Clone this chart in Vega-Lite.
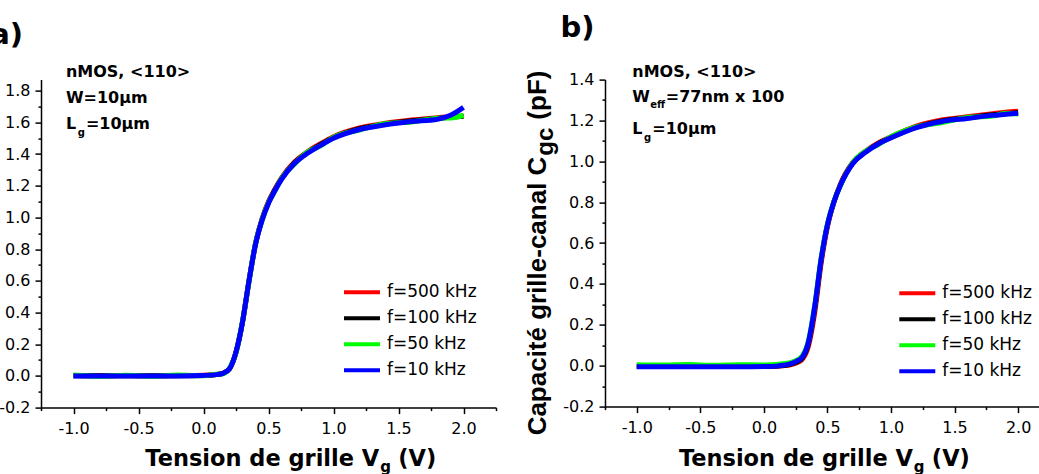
{
  "$schema": "https://vega.github.io/schema/vega-lite/v6.json",
  "background": "white",
  "padding": {"left": -10, "top": 13.6, "right": 0, "bottom": 0},
  "spacing": 27,
  "config": {
    "view": {"stroke": null},
    "axis": {"grid": false, "domainColor": "black", "domainWidth": 1.5, "tickColor": "black", "tickWidth": 1.5, "labelColor": "black", "labelFont": "DejaVu Sans", "labelFontSize": 16, "labelFlush": false, "labelOverlap": false}
  },
  "resolve": {"scale": {"color": "independent"}, "legend": {"color": "independent"}},
  "datasets": {
    "a": [
      {"f": "f=500 kHz", "V": -1, "C": 0.002}, {"f": "f=500 kHz", "V": -0.8, "C": 0.001}, {"f": "f=500 kHz", "V": -0.6, "C": 0.002}, {"f": "f=500 kHz", "V": -0.4, "C": 0.001}, {"f": "f=500 kHz", "V": -0.2, "C": 0.002}, {"f": "f=500 kHz", "V": 0, "C": 0.004}, {"f": "f=500 kHz", "V": 0.1, "C": 0.009}, {"f": "f=500 kHz", "V": 0.15, "C": 0.017}, {"f": "f=500 kHz", "V": 0.2, "C": 0.046}, {"f": "f=500 kHz", "V": 0.25, "C": 0.15}, {"f": "f=500 kHz", "V": 0.3, "C": 0.34}, {"f": "f=500 kHz", "V": 0.35, "C": 0.6}, {"f": "f=500 kHz", "V": 0.4, "C": 0.835}, {"f": "f=500 kHz", "V": 0.45, "C": 0.99}, {"f": "f=500 kHz", "V": 0.5, "C": 1.1}, {"f": "f=500 kHz", "V": 0.55, "C": 1.18}, {"f": "f=500 kHz", "V": 0.6, "C": 1.25}, {"f": "f=500 kHz", "V": 0.7, "C": 1.35}, {"f": "f=500 kHz", "V": 0.8, "C": 1.415}, {"f": "f=500 kHz", "V": 0.9, "C": 1.465}, {"f": "f=500 kHz", "V": 1, "C": 1.51}, {"f": "f=500 kHz", "V": 1.2, "C": 1.565}, {"f": "f=500 kHz", "V": 1.4, "C": 1.595}, {"f": "f=500 kHz", "V": 1.6, "C": 1.615}, {"f": "f=500 kHz", "V": 1.8, "C": 1.63}, {"f": "f=500 kHz", "V": 1.9, "C": 1.635}, {"f": "f=500 kHz", "V": 2, "C": 1.64},
      {"f": "f=100 kHz", "V": -1, "C": 0.001}, {"f": "f=100 kHz", "V": -0.8, "C": 0.001}, {"f": "f=100 kHz", "V": -0.6, "C": 0.001}, {"f": "f=100 kHz", "V": -0.4, "C": 0.001}, {"f": "f=100 kHz", "V": -0.2, "C": 0.001}, {"f": "f=100 kHz", "V": 0, "C": 0.003}, {"f": "f=100 kHz", "V": 0.1, "C": 0.008}, {"f": "f=100 kHz", "V": 0.15, "C": 0.016}, {"f": "f=100 kHz", "V": 0.2, "C": 0.045}, {"f": "f=100 kHz", "V": 0.25, "C": 0.15}, {"f": "f=100 kHz", "V": 0.3, "C": 0.34}, {"f": "f=100 kHz", "V": 0.35, "C": 0.6}, {"f": "f=100 kHz", "V": 0.4, "C": 0.832}, {"f": "f=100 kHz", "V": 0.45, "C": 0.985}, {"f": "f=100 kHz", "V": 0.5, "C": 1.095}, {"f": "f=100 kHz", "V": 0.55, "C": 1.175}, {"f": "f=100 kHz", "V": 0.6, "C": 1.245}, {"f": "f=100 kHz", "V": 0.7, "C": 1.345}, {"f": "f=100 kHz", "V": 0.8, "C": 1.41}, {"f": "f=100 kHz", "V": 0.9, "C": 1.46}, {"f": "f=100 kHz", "V": 1, "C": 1.505}, {"f": "f=100 kHz", "V": 1.2, "C": 1.56}, {"f": "f=100 kHz", "V": 1.4, "C": 1.59}, {"f": "f=100 kHz", "V": 1.6, "C": 1.61}, {"f": "f=100 kHz", "V": 1.8, "C": 1.625}, {"f": "f=100 kHz", "V": 1.9, "C": 1.632}, {"f": "f=100 kHz", "V": 2, "C": 1.638},
      {"f": "f=50 kHz", "V": -1, "C": 0.005}, {"f": "f=50 kHz", "V": -0.8, "C": -0.003}, {"f": "f=50 kHz", "V": -0.6, "C": 0.004}, {"f": "f=50 kHz", "V": -0.4, "C": -0.002}, {"f": "f=50 kHz", "V": -0.2, "C": 0.005}, {"f": "f=50 kHz", "V": 0, "C": 0.001}, {"f": "f=50 kHz", "V": 0.1, "C": 0.011}, {"f": "f=50 kHz", "V": 0.15, "C": 0.014}, {"f": "f=50 kHz", "V": 0.2, "C": 0.05}, {"f": "f=50 kHz", "V": 0.25, "C": 0.145}, {"f": "f=50 kHz", "V": 0.3, "C": 0.345}, {"f": "f=50 kHz", "V": 0.35, "C": 0.595}, {"f": "f=50 kHz", "V": 0.4, "C": 0.835}, {"f": "f=50 kHz", "V": 0.45, "C": 0.982}, {"f": "f=50 kHz", "V": 0.5, "C": 1.094}, {"f": "f=50 kHz", "V": 0.55, "C": 1.168}, {"f": "f=50 kHz", "V": 0.6, "C": 1.246}, {"f": "f=50 kHz", "V": 0.7, "C": 1.338}, {"f": "f=50 kHz", "V": 0.8, "C": 1.412}, {"f": "f=50 kHz", "V": 0.9, "C": 1.452}, {"f": "f=50 kHz", "V": 1, "C": 1.505}, {"f": "f=50 kHz", "V": 1.2, "C": 1.552}, {"f": "f=50 kHz", "V": 1.4, "C": 1.592}, {"f": "f=50 kHz", "V": 1.6, "C": 1.603}, {"f": "f=50 kHz", "V": 1.8, "C": 1.626}, {"f": "f=50 kHz", "V": 1.9, "C": 1.628}, {"f": "f=50 kHz", "V": 2, "C": 1.645},
      {"f": "f=10 kHz", "V": -1, "C": 0}, {"f": "f=10 kHz", "V": -0.8, "C": 0}, {"f": "f=10 kHz", "V": -0.6, "C": 0}, {"f": "f=10 kHz", "V": -0.4, "C": 0}, {"f": "f=10 kHz", "V": -0.2, "C": 0}, {"f": "f=10 kHz", "V": 0, "C": 0.003}, {"f": "f=10 kHz", "V": 0.1, "C": 0.008}, {"f": "f=10 kHz", "V": 0.15, "C": 0.016}, {"f": "f=10 kHz", "V": 0.2, "C": 0.045}, {"f": "f=10 kHz", "V": 0.25, "C": 0.15}, {"f": "f=10 kHz", "V": 0.3, "C": 0.34}, {"f": "f=10 kHz", "V": 0.35, "C": 0.6}, {"f": "f=10 kHz", "V": 0.4, "C": 0.83}, {"f": "f=10 kHz", "V": 0.45, "C": 0.98}, {"f": "f=10 kHz", "V": 0.5, "C": 1.09}, {"f": "f=10 kHz", "V": 0.55, "C": 1.17}, {"f": "f=10 kHz", "V": 0.6, "C": 1.24}, {"f": "f=10 kHz", "V": 0.7, "C": 1.34}, {"f": "f=10 kHz", "V": 0.8, "C": 1.405}, {"f": "f=10 kHz", "V": 0.9, "C": 1.455}, {"f": "f=10 kHz", "V": 1, "C": 1.5}, {"f": "f=10 kHz", "V": 1.2, "C": 1.555}, {"f": "f=10 kHz", "V": 1.4, "C": 1.585}, {"f": "f=10 kHz", "V": 1.6, "C": 1.605}, {"f": "f=10 kHz", "V": 1.8, "C": 1.62}, {"f": "f=10 kHz", "V": 1.9, "C": 1.645}, {"f": "f=10 kHz", "V": 2, "C": 1.695}
    ],
    "b": [
      {"f": "f=500 kHz", "V": -1, "C": -0.003}, {"f": "f=500 kHz", "V": -0.8, "C": -0.003}, {"f": "f=500 kHz", "V": -0.6, "C": -0.003}, {"f": "f=500 kHz", "V": -0.4, "C": -0.003}, {"f": "f=500 kHz", "V": -0.2, "C": -0.003}, {"f": "f=500 kHz", "V": 0, "C": -0.003}, {"f": "f=500 kHz", "V": 0.1, "C": -0.002}, {"f": "f=500 kHz", "V": 0.15, "C": 0}, {"f": "f=500 kHz", "V": 0.2, "C": 0.003}, {"f": "f=500 kHz", "V": 0.25, "C": 0.012}, {"f": "f=500 kHz", "V": 0.3, "C": 0.03}, {"f": "f=500 kHz", "V": 0.35, "C": 0.095}, {"f": "f=500 kHz", "V": 0.4, "C": 0.26}, {"f": "f=500 kHz", "V": 0.45, "C": 0.5}, {"f": "f=500 kHz", "V": 0.5, "C": 0.68}, {"f": "f=500 kHz", "V": 0.55, "C": 0.8}, {"f": "f=500 kHz", "V": 0.6, "C": 0.885}, {"f": "f=500 kHz", "V": 0.7, "C": 0.995}, {"f": "f=500 kHz", "V": 0.8, "C": 1.05}, {"f": "f=500 kHz", "V": 0.9, "C": 1.09}, {"f": "f=500 kHz", "V": 1, "C": 1.12}, {"f": "f=500 kHz", "V": 1.2, "C": 1.172}, {"f": "f=500 kHz", "V": 1.4, "C": 1.202}, {"f": "f=500 kHz", "V": 1.6, "C": 1.218}, {"f": "f=500 kHz", "V": 1.8, "C": 1.233}, {"f": "f=500 kHz", "V": 1.9, "C": 1.24}, {"f": "f=500 kHz", "V": 2, "C": 1.245},
      {"f": "f=100 kHz", "V": -1, "C": -0.004}, {"f": "f=100 kHz", "V": -0.8, "C": -0.004}, {"f": "f=100 kHz", "V": -0.6, "C": -0.004}, {"f": "f=100 kHz", "V": -0.4, "C": -0.004}, {"f": "f=100 kHz", "V": -0.2, "C": -0.004}, {"f": "f=100 kHz", "V": 0, "C": -0.004}, {"f": "f=100 kHz", "V": 0.1, "C": -0.002}, {"f": "f=100 kHz", "V": 0.15, "C": 0.001}, {"f": "f=100 kHz", "V": 0.2, "C": 0.006}, {"f": "f=100 kHz", "V": 0.25, "C": 0.016}, {"f": "f=100 kHz", "V": 0.3, "C": 0.036}, {"f": "f=100 kHz", "V": 0.35, "C": 0.108}, {"f": "f=100 kHz", "V": 0.4, "C": 0.28}, {"f": "f=100 kHz", "V": 0.45, "C": 0.515}, {"f": "f=100 kHz", "V": 0.5, "C": 0.688}, {"f": "f=100 kHz", "V": 0.55, "C": 0.8}, {"f": "f=100 kHz", "V": 0.6, "C": 0.882}, {"f": "f=100 kHz", "V": 0.7, "C": 0.992}, {"f": "f=100 kHz", "V": 0.8, "C": 1.047}, {"f": "f=100 kHz", "V": 0.9, "C": 1.087}, {"f": "f=100 kHz", "V": 1, "C": 1.117}, {"f": "f=100 kHz", "V": 1.2, "C": 1.168}, {"f": "f=100 kHz", "V": 1.4, "C": 1.198}, {"f": "f=100 kHz", "V": 1.6, "C": 1.213}, {"f": "f=100 kHz", "V": 1.8, "C": 1.228}, {"f": "f=100 kHz", "V": 1.9, "C": 1.233}, {"f": "f=100 kHz", "V": 2, "C": 1.238},
      {"f": "f=50 kHz", "V": -1, "C": 0.005}, {"f": "f=50 kHz", "V": -0.8, "C": 0.003}, {"f": "f=50 kHz", "V": -0.6, "C": 0.006}, {"f": "f=50 kHz", "V": -0.4, "C": 0.002}, {"f": "f=50 kHz", "V": -0.2, "C": 0.005}, {"f": "f=50 kHz", "V": 0, "C": 0.004}, {"f": "f=50 kHz", "V": 0.1, "C": 0.006}, {"f": "f=50 kHz", "V": 0.15, "C": 0.01}, {"f": "f=50 kHz", "V": 0.2, "C": 0.014}, {"f": "f=50 kHz", "V": 0.25, "C": 0.025}, {"f": "f=50 kHz", "V": 0.3, "C": 0.046}, {"f": "f=50 kHz", "V": 0.35, "C": 0.12}, {"f": "f=50 kHz", "V": 0.4, "C": 0.295}, {"f": "f=50 kHz", "V": 0.45, "C": 0.525}, {"f": "f=50 kHz", "V": 0.5, "C": 0.692}, {"f": "f=50 kHz", "V": 0.55, "C": 0.802}, {"f": "f=50 kHz", "V": 0.6, "C": 0.878}, {"f": "f=50 kHz", "V": 0.7, "C": 0.995}, {"f": "f=50 kHz", "V": 0.8, "C": 1.05}, {"f": "f=50 kHz", "V": 0.9, "C": 1.082}, {"f": "f=50 kHz", "V": 1, "C": 1.12}, {"f": "f=50 kHz", "V": 1.2, "C": 1.168}, {"f": "f=50 kHz", "V": 1.4, "C": 1.19}, {"f": "f=50 kHz", "V": 1.6, "C": 1.215}, {"f": "f=50 kHz", "V": 1.8, "C": 1.222}, {"f": "f=50 kHz", "V": 1.9, "C": 1.234}, {"f": "f=50 kHz", "V": 2, "C": 1.232},
      {"f": "f=10 kHz", "V": -1, "C": -0.005}, {"f": "f=10 kHz", "V": -0.8, "C": -0.005}, {"f": "f=10 kHz", "V": -0.6, "C": -0.005}, {"f": "f=10 kHz", "V": -0.4, "C": -0.005}, {"f": "f=10 kHz", "V": -0.2, "C": -0.005}, {"f": "f=10 kHz", "V": 0, "C": -0.004}, {"f": "f=10 kHz", "V": 0.1, "C": -0.002}, {"f": "f=10 kHz", "V": 0.15, "C": 0.002}, {"f": "f=10 kHz", "V": 0.2, "C": 0.008}, {"f": "f=10 kHz", "V": 0.25, "C": 0.02}, {"f": "f=10 kHz", "V": 0.3, "C": 0.04}, {"f": "f=10 kHz", "V": 0.35, "C": 0.115}, {"f": "f=10 kHz", "V": 0.4, "C": 0.29}, {"f": "f=10 kHz", "V": 0.45, "C": 0.52}, {"f": "f=10 kHz", "V": 0.5, "C": 0.69}, {"f": "f=10 kHz", "V": 0.55, "C": 0.8}, {"f": "f=10 kHz", "V": 0.6, "C": 0.88}, {"f": "f=10 kHz", "V": 0.7, "C": 0.99}, {"f": "f=10 kHz", "V": 0.8, "C": 1.045}, {"f": "f=10 kHz", "V": 0.9, "C": 1.085}, {"f": "f=10 kHz", "V": 1, "C": 1.115}, {"f": "f=10 kHz", "V": 1.2, "C": 1.165}, {"f": "f=10 kHz", "V": 1.4, "C": 1.195}, {"f": "f=10 kHz", "V": 1.6, "C": 1.21}, {"f": "f=10 kHz", "V": 1.8, "C": 1.225}, {"f": "f=10 kHz", "V": 1.9, "C": 1.23}, {"f": "f=10 kHz", "V": 2, "C": 1.235}
    ]
  },
  "hconcat": [
    {
      "width": 455,
      "height": 328,
      "data": {"name": "a"},
      "resolve": {"scale": {"x": "independent", "y": "independent"}, "axis": {"x": "independent", "y": "independent"}},
      "layer": [
        {
          "mark": {"type": "line", "strokeWidth": 5, "interpolate": "monotone"},
          "encoding": {
            "x": {"field": "V", "type": "quantitative", "scale": {"domain": [-1.25, 2.25], "nice": false, "zero": false},
              "axis": {"title": null, "labelOverlap": false, "labelFontSize": 16, "labelFont": "DejaVu Sans", "labelPadding": 7, "values": [-1.25, -1, -0.75, -0.5, -0.25, 0, 0.25, 0.5, 0.75, 1, 1.25, 1.5, 1.75, 2, 2.25], "format": ".1f",
                "labelExpr": "round(datum.value*4) % 2 === 0 ? replace(datum.label, '\u2212', '-') : ''",
                "tickSize": {"condition": {"test": "round(datum.value*4) % 2 === 0", "value": 6}, "value": 3}}},
            "y": {"field": "C", "type": "quantitative", "scale": {"domain": [-0.2, 1.87], "nice": false, "zero": false},
              "axis": {"title": null, "labelOverlap": false, "labelFontSize": 16, "labelFont": "DejaVu Sans", "labelPadding": 5, "values": [-0.2, -0.1, 0, 0.1, 0.2, 0.3, 0.4, 0.5, 0.6, 0.7, 0.8, 0.9, 1, 1.1, 1.2, 1.3, 1.4, 1.5, 1.6, 1.7, 1.8], "format": ".1f",
                "labelExpr": "round(datum.value*10) % 2 === 0 ? replace(datum.label, '\u2212', '-') : ''",
                "tickSize": {"condition": {"test": "round(datum.value*10) % 2 === 0", "value": 6}, "value": 3}}},
            "color": {"field": "f", "type": "nominal", "sort": null,
              "scale": {"domain": ["f=500 kHz", "f=100 kHz", "f=50 kHz", "f=10 kHz"], "range": ["#ff0000", "#000000", "#00ff00", "#0000ff"]},
              "legend": {"orient": "none", "legendX": 301, "legendY": 204.2, "title": null, "padding": 0, "symbolType": "stroke", "symbolSize": 1296, "symbolStrokeWidth": 4, "clipHeight": 17, "rowPadding": 8, "labelFont": "DejaVu Sans", "labelFontSize": 17, "labelOffset": 5, "labelColor": "black"}}
          }
        },
        {
          "data": {"values": [{"t": "a)"}]},
          "mark": {"type": "text", "font": "DejaVu Sans", "fontWeight": "bold", "fontSize": 29, "align": "left", "baseline": "alphabetic", "color": "black"},
          "encoding": {"text": {"field": "t"}, "x": {"datum": -1.64, "type": "quantitative", "scale": {"domain": [-1.25, 2.25], "nice": false, "zero": false}, "axis": null}, "y": {"datum": 2.097, "type": "quantitative", "scale": {"domain": [-0.2, 1.87], "nice": false, "zero": false}, "axis": null}}
        },
        {
          "data": {"values": [{"t": "nMOS, <110>"}]},
          "mark": {"type": "text", "font": "DejaVu Sans", "fontWeight": "bold", "fontSize": 16, "align": "left", "baseline": "alphabetic", "color": "black"},
          "encoding": {"text": {"field": "t"}, "x": {"datum": -1.058, "type": "quantitative", "scale": {"domain": [-1.25, 2.25], "nice": false, "zero": false}, "axis": null}, "y": {"datum": 1.885, "type": "quantitative", "scale": {"domain": [-0.2, 1.87], "nice": false, "zero": false}, "axis": null}}
        },
        {
          "data": {"values": [{"t": "W=10µm"}]},
          "mark": {"type": "text", "font": "DejaVu Sans", "fontWeight": "bold", "fontSize": 16, "align": "left", "baseline": "alphabetic", "color": "black"},
          "encoding": {"text": {"field": "t"}, "x": {"datum": -1.058, "type": "quantitative", "scale": {"domain": [-1.25, 2.25], "nice": false, "zero": false}, "axis": null}, "y": {"datum": 1.72, "type": "quantitative", "scale": {"domain": [-0.2, 1.87], "nice": false, "zero": false}, "axis": null}}
        },
        {
          "data": {"values": [{"t": "L"}]},
          "mark": {"type": "text", "font": "DejaVu Sans", "fontWeight": "bold", "fontSize": 16, "align": "left", "baseline": "alphabetic", "color": "black"},
          "encoding": {"text": {"field": "t"}, "x": {"datum": -1.058, "type": "quantitative", "scale": {"domain": [-1.25, 2.25], "nice": false, "zero": false}, "axis": null}, "y": {"datum": 1.559, "type": "quantitative", "scale": {"domain": [-0.2, 1.87], "nice": false, "zero": false}, "axis": null}}
        },
        {
          "data": {"values": [{"t": "g"}]},
          "mark": {"type": "text", "font": "DejaVu Sans", "fontWeight": "bold", "fontSize": 10, "align": "left", "baseline": "alphabetic", "color": "black", "dx": 11.7, "dy": 7},
          "encoding": {"text": {"field": "t"}, "x": {"datum": -1.058, "type": "quantitative", "scale": {"domain": [-1.25, 2.25], "nice": false, "zero": false}, "axis": null}, "y": {"datum": 1.559, "type": "quantitative", "scale": {"domain": [-0.2, 1.87], "nice": false, "zero": false}, "axis": null}}
        },
        {
          "data": {"values": [{"t": "=10µm"}]},
          "mark": {"type": "text", "font": "DejaVu Sans", "fontWeight": "bold", "fontSize": 16, "align": "left", "baseline": "alphabetic", "color": "black", "dx": 20},
          "encoding": {"text": {"field": "t"}, "x": {"datum": -1.058, "type": "quantitative", "scale": {"domain": [-1.25, 2.25], "nice": false, "zero": false}, "axis": null}, "y": {"datum": 1.559, "type": "quantitative", "scale": {"domain": [-0.2, 1.87], "nice": false, "zero": false}, "axis": null}}
        },
        {
          "data": {"values": [{"t": "Tension de grille V"}]},
          "mark": {"type": "text", "font": "DejaVu Sans", "fontWeight": "bold", "fontSize": 22.5, "align": "right", "baseline": "alphabetic", "color": "black"},
          "encoding": {"text": {"field": "t"}, "x": {"datum": 1.352, "type": "quantitative", "scale": {"domain": [-1.25, 2.25], "nice": false, "zero": false}, "axis": null}, "y": {"datum": -0.566, "type": "quantitative", "scale": {"domain": [-0.2, 1.87], "nice": false, "zero": false}, "axis": null}}
        },
        {
          "data": {"values": [{"t": "g"}]},
          "mark": {"type": "text", "font": "DejaVu Sans", "fontWeight": "bold", "fontSize": 15, "align": "left", "baseline": "alphabetic", "color": "black", "dx": 1, "dy": 6},
          "encoding": {"text": {"field": "t"}, "x": {"datum": 1.352, "type": "quantitative", "scale": {"domain": [-1.25, 2.25], "nice": false, "zero": false}, "axis": null}, "y": {"datum": -0.566, "type": "quantitative", "scale": {"domain": [-0.2, 1.87], "nice": false, "zero": false}, "axis": null}}
        },
        {
          "data": {"values": [{"t": "(V)"}]},
          "mark": {"type": "text", "font": "DejaVu Sans", "fontWeight": "bold", "fontSize": 22.5, "align": "left", "baseline": "alphabetic", "color": "black", "dx": 19},
          "encoding": {"text": {"field": "t"}, "x": {"datum": 1.352, "type": "quantitative", "scale": {"domain": [-1.25, 2.25], "nice": false, "zero": false}, "axis": null}, "y": {"datum": -0.566, "type": "quantitative", "scale": {"domain": [-0.2, 1.87], "nice": false, "zero": false}, "axis": null}}
        }
      ]
    },
    {
      "width": 436,
      "height": 327,
      "data": {"name": "b"},
      "resolve": {"scale": {"x": "independent", "y": "independent"}, "axis": {"x": "independent", "y": "independent"}},
      "layer": [
        {
          "mark": {"type": "line", "strokeWidth": 5, "interpolate": "monotone"},
          "encoding": {
            "x": {"field": "V", "type": "quantitative", "scale": {"domain": [-1.25, 2.18], "nice": false, "zero": false},
              "axis": {"title": null, "labelOverlap": false, "labelFontSize": 16, "labelFont": "DejaVu Sans", "labelPadding": 7, "values": [-1.25, -1, -0.75, -0.5, -0.25, 0, 0.25, 0.5, 0.75, 1, 1.25, 1.5, 1.75, 2], "format": ".1f",
                "labelExpr": "round(datum.value*4) % 2 === 0 ? replace(datum.label, '\u2212', '-') : ''",
                "tickSize": {"condition": {"test": "round(datum.value*4) % 2 === 0", "value": 6}, "value": 3}}},
            "y": {"field": "C", "type": "quantitative", "scale": {"domain": [-0.2, 1.4], "nice": false, "zero": false},
              "axis": {"title": null, "labelOverlap": false, "labelFontSize": 16, "labelFont": "DejaVu Sans", "labelPadding": 5, "values": [-0.2, -0.1, 0, 0.1, 0.2, 0.3, 0.4, 0.5, 0.6, 0.7, 0.8, 0.9, 1, 1.1, 1.2, 1.3, 1.4], "format": ".1f",
                "labelExpr": "round(datum.value*10) % 2 === 0 ? replace(datum.label, '\u2212', '-') : ''",
                "tickSize": {"condition": {"test": "round(datum.value*10) % 2 === 0", "value": 6}, "value": 3}}},
            "color": {"field": "f", "type": "nominal", "sort": null,
              "scale": {"domain": ["f=500 kHz", "f=100 kHz", "f=50 kHz", "f=10 kHz"], "range": ["#ff0000", "#000000", "#00ff00", "#0000ff"]},
              "legend": {"orient": "none", "legendX": 292.3, "legendY": 205.2, "title": null, "padding": 0, "symbolType": "stroke", "symbolSize": 1296, "symbolStrokeWidth": 4, "clipHeight": 17, "rowPadding": 8, "labelFont": "DejaVu Sans", "labelFontSize": 17, "labelOffset": 5, "labelColor": "black"}}
          }
        },
        {
          "data": {"values": [{"t": "b)"}]},
          "mark": {"type": "text", "font": "DejaVu Sans", "fontWeight": "bold", "fontSize": 29, "align": "left", "baseline": "alphabetic", "color": "black"},
          "encoding": {"text": {"field": "t"}, "x": {"datum": -1.6, "type": "quantitative", "scale": {"domain": [-1.25, 2.18], "nice": false, "zero": false}, "axis": null}, "y": {"datum": 1.608, "type": "quantitative", "scale": {"domain": [-0.2, 1.4], "nice": false, "zero": false}, "axis": null}}
        },
        {
          "data": {"values": [{"t": "nMOS, <110>"}]},
          "mark": {"type": "text", "font": "DejaVu Sans", "fontWeight": "bold", "fontSize": 16, "align": "left", "baseline": "alphabetic", "color": "black"},
          "encoding": {"text": {"field": "t"}, "x": {"datum": -1.035, "type": "quantitative", "scale": {"domain": [-1.25, 2.18], "nice": false, "zero": false}, "axis": null}, "y": {"datum": 1.415, "type": "quantitative", "scale": {"domain": [-0.2, 1.4], "nice": false, "zero": false}, "axis": null}}
        },
        {
          "data": {"values": [{"t": "W"}]},
          "mark": {"type": "text", "font": "DejaVu Sans", "fontWeight": "bold", "fontSize": 16, "align": "left", "baseline": "alphabetic", "color": "black"},
          "encoding": {"text": {"field": "t"}, "x": {"datum": -1.035, "type": "quantitative", "scale": {"domain": [-1.25, 2.18], "nice": false, "zero": false}, "axis": null}, "y": {"datum": 1.289, "type": "quantitative", "scale": {"domain": [-0.2, 1.4], "nice": false, "zero": false}, "axis": null}}
        },
        {
          "data": {"values": [{"t": "eff"}]},
          "mark": {"type": "text", "font": "DejaVu Sans", "fontWeight": "bold", "fontSize": 10, "align": "left", "baseline": "alphabetic", "color": "black", "dx": 18, "dy": 6},
          "encoding": {"text": {"field": "t"}, "x": {"datum": -1.035, "type": "quantitative", "scale": {"domain": [-1.25, 2.18], "nice": false, "zero": false}, "axis": null}, "y": {"datum": 1.289, "type": "quantitative", "scale": {"domain": [-0.2, 1.4], "nice": false, "zero": false}, "axis": null}}
        },
        {
          "data": {"values": [{"t": "=77nm x 100"}]},
          "mark": {"type": "text", "font": "DejaVu Sans", "fontWeight": "bold", "fontSize": 16, "align": "left", "baseline": "alphabetic", "color": "black", "dx": 33.5},
          "encoding": {"text": {"field": "t"}, "x": {"datum": -1.035, "type": "quantitative", "scale": {"domain": [-1.25, 2.18], "nice": false, "zero": false}, "axis": null}, "y": {"datum": 1.289, "type": "quantitative", "scale": {"domain": [-0.2, 1.4], "nice": false, "zero": false}, "axis": null}}
        },
        {
          "data": {"values": [{"t": "L"}]},
          "mark": {"type": "text", "font": "DejaVu Sans", "fontWeight": "bold", "fontSize": 16, "align": "left", "baseline": "alphabetic", "color": "black"},
          "encoding": {"text": {"field": "t"}, "x": {"datum": -1.035, "type": "quantitative", "scale": {"domain": [-1.25, 2.18], "nice": false, "zero": false}, "axis": null}, "y": {"datum": 1.134, "type": "quantitative", "scale": {"domain": [-0.2, 1.4], "nice": false, "zero": false}, "axis": null}}
        },
        {
          "data": {"values": [{"t": "g"}]},
          "mark": {"type": "text", "font": "DejaVu Sans", "fontWeight": "bold", "fontSize": 10, "align": "left", "baseline": "alphabetic", "color": "black", "dx": 11.7, "dy": 7},
          "encoding": {"text": {"field": "t"}, "x": {"datum": -1.035, "type": "quantitative", "scale": {"domain": [-1.25, 2.18], "nice": false, "zero": false}, "axis": null}, "y": {"datum": 1.134, "type": "quantitative", "scale": {"domain": [-0.2, 1.4], "nice": false, "zero": false}, "axis": null}}
        },
        {
          "data": {"values": [{"t": "=10µm"}]},
          "mark": {"type": "text", "font": "DejaVu Sans", "fontWeight": "bold", "fontSize": 16, "align": "left", "baseline": "alphabetic", "color": "black", "dx": 20},
          "encoding": {"text": {"field": "t"}, "x": {"datum": -1.035, "type": "quantitative", "scale": {"domain": [-1.25, 2.18], "nice": false, "zero": false}, "axis": null}, "y": {"datum": 1.134, "type": "quantitative", "scale": {"domain": [-0.2, 1.4], "nice": false, "zero": false}, "axis": null}}
        },
        {
          "data": {"values": [{"t": "Capacité grille-canal C"}]},
          "mark": {"type": "text", "font": "Liberation Sans", "fontWeight": "bold", "fontSize": 26, "align": "right", "baseline": "alphabetic", "angle": 270, "color": "black"},
          "encoding": {"text": {"field": "t"}, "x": {"datum": -1.716, "type": "quantitative", "scale": {"domain": [-1.25, 2.18], "nice": false, "zero": false}, "axis": null}, "y": {"datum": 1.023, "type": "quantitative", "scale": {"domain": [-0.2, 1.4], "nice": false, "zero": false}, "axis": null}}
        },
        {
          "data": {"values": [{"t": "gc"}]},
          "mark": {"type": "text", "font": "Liberation Sans", "fontWeight": "bold", "fontSize": 24, "align": "left", "baseline": "alphabetic", "angle": 270, "color": "black", "dx": 1, "dy": 7},
          "encoding": {"text": {"field": "t"}, "x": {"datum": -1.716, "type": "quantitative", "scale": {"domain": [-1.25, 2.18], "nice": false, "zero": false}, "axis": null}, "y": {"datum": 1.023, "type": "quantitative", "scale": {"domain": [-0.2, 1.4], "nice": false, "zero": false}, "axis": null}}
        },
        {
          "data": {"values": [{"t": "(pF)"}]},
          "mark": {"type": "text", "font": "Liberation Sans", "fontWeight": "bold", "fontSize": 26, "align": "left", "baseline": "alphabetic", "angle": 270, "color": "black", "dx": 37},
          "encoding": {"text": {"field": "t"}, "x": {"datum": -1.716, "type": "quantitative", "scale": {"domain": [-1.25, 2.18], "nice": false, "zero": false}, "axis": null}, "y": {"datum": 1.023, "type": "quantitative", "scale": {"domain": [-0.2, 1.4], "nice": false, "zero": false}, "axis": null}}
        },
        {
          "data": {"values": [{"t": "Tension de grille V"}]},
          "mark": {"type": "text", "font": "DejaVu Sans", "fontWeight": "bold", "fontSize": 22.5, "align": "right", "baseline": "alphabetic", "color": "black"},
          "encoding": {"text": {"field": "t"}, "x": {"datum": 1.172, "type": "quantitative", "scale": {"domain": [-1.25, 2.18], "nice": false, "zero": false}, "axis": null}, "y": {"datum": -0.489, "type": "quantitative", "scale": {"domain": [-0.2, 1.4], "nice": false, "zero": false}, "axis": null}}
        },
        {
          "data": {"values": [{"t": "g"}]},
          "mark": {"type": "text", "font": "DejaVu Sans", "fontWeight": "bold", "fontSize": 15, "align": "left", "baseline": "alphabetic", "color": "black", "dx": 1, "dy": 6},
          "encoding": {"text": {"field": "t"}, "x": {"datum": 1.172, "type": "quantitative", "scale": {"domain": [-1.25, 2.18], "nice": false, "zero": false}, "axis": null}, "y": {"datum": -0.489, "type": "quantitative", "scale": {"domain": [-0.2, 1.4], "nice": false, "zero": false}, "axis": null}}
        },
        {
          "data": {"values": [{"t": "(V)"}]},
          "mark": {"type": "text", "font": "DejaVu Sans", "fontWeight": "bold", "fontSize": 22.5, "align": "left", "baseline": "alphabetic", "color": "black", "dx": 19},
          "encoding": {"text": {"field": "t"}, "x": {"datum": 1.172, "type": "quantitative", "scale": {"domain": [-1.25, 2.18], "nice": false, "zero": false}, "axis": null}, "y": {"datum": -0.489, "type": "quantitative", "scale": {"domain": [-0.2, 1.4], "nice": false, "zero": false}, "axis": null}}
        }
      ]
    }
  ]
}
